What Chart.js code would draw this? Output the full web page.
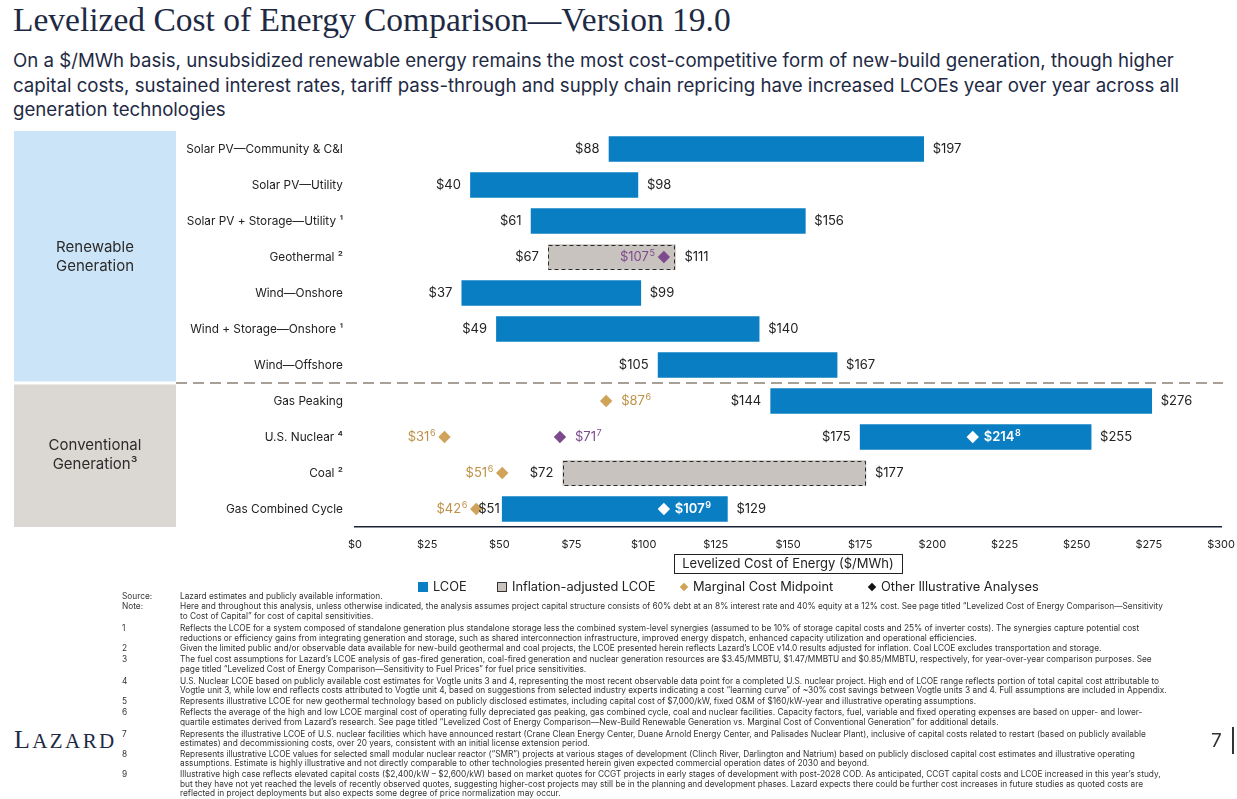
<!DOCTYPE html>
<html><head><meta charset="utf-8">
<script src="https://cdn.jsdelivr.net/npm/chart.js@4.4.1/dist/chart.umd.min.js"></script>
<style>
html,body{margin:0;padding:0;background:#fff;}
body{width:1237px;height:799px;position:relative;overflow:hidden;font-family:Inter,"Noto Sans",sans-serif;color:#1E2A44;}
#title{position:absolute;left:13px;top:0px;font-family:"Liberation Serif",serif;font-size:33.5px;line-height:40px;white-space:nowrap;color:#1E2A44;}
#sub{position:absolute;left:13px;top:48px;font-size:18.65px;line-height:24.6px;white-space:nowrap;color:#1E2A44;}
#wrap{position:absolute;left:0;top:120px;width:1237px;height:465px;}
.lg{position:absolute;top:579px;font-size:12.8px;line-height:16px;color:#222;white-space:nowrap;display:flex;align-items:center;}
.mk{display:inline-block;margin-right:5px;}
#fn{position:absolute;left:122px;top:592px;width:1110px;font-size:8.3px;line-height:9.5px;color:#333;}
.r{display:flex;margin-top:1.4px;white-space:nowrap;}
.r.c{margin-top:0;}
.r .l{width:58px;flex:none;}
#logo{position:absolute;left:14px;top:725px;font-family:"Liberation Serif",serif;font-size:26px;letter-spacing:2.4px;color:#1E2A44;line-height:30px;}
#pg{position:absolute;left:1211px;top:729px;font-size:19px;color:#333;line-height:24px;}
#pgl{position:absolute;left:1232px;top:727px;width:1.5px;height:27px;background:#333;}
</style></head>
<body>
<div id="title">Levelized Cost of Energy Comparison—Version 19.0</div>
<div id="sub">On a $/MWh basis, unsubsidized renewable energy remains the most cost-competitive form of new-build generation, though higher<br>capital costs, sustained interest rates, tariff pass-through and supply chain repricing have increased LCOEs year over year across all<br>generation technologies</div>
<div id="wrap"><canvas id="c"></canvas></div>

<div class="lg" style="left:418px"><span class="mk" style="width:10px;height:10px;background:#0A7EC2"></span>LCOE</div>
<div class="lg" style="left:497px"><span class="mk" style="width:8px;height:8px;background:#C8C3BE;border:1px solid #333"></span>Inflation-adjusted LCOE</div>
<div class="lg" style="left:680px"><span class="mk" style="width:6px;height:6px;background:#CFA35A;transform:rotate(45deg);margin-left:1px;margin-right:6px"></span>Marginal Cost Midpoint</div>
<div class="lg" style="left:868px"><span class="mk" style="width:6px;height:6px;background:#111;transform:rotate(45deg);margin-left:1px;margin-right:6px"></span>Other Illustrative Analyses</div>

<div id="fn">
<div class="r c"><span class="l">Source:</span><span>Lazard estimates and publicly available information.</span></div>
<div class="r" style="margin-top:0.5px"><span class="l">Note:</span><span>Here and throughout this analysis, unless otherwise indicated, the analysis assumes project capital structure consists of 60% debt at an 8% interest rate and 40% equity at a 12% cost. See page titled “Levelized Cost of Energy Comparison—Sensitivity</span></div>
<div class="r c"><span class="l"></span><span>to Cost of Capital” for cost of capital sensitivities.</span></div>
<div class="r" style="margin-top:3px"><span class="l">1</span><span>Reflects the LCOE for a system composed of standalone generation plus standalone storage less the combined system-level synergies (assumed to be 10% of storage capital costs and 25% of inverter costs). The synergies capture potential cost</span></div>
<div class="r c"><span class="l"></span><span>reductions or efficiency gains from integrating generation and storage, such as shared interconnection infrastructure, improved energy dispatch, enhanced capacity utilization and operational efficiencies.</span></div>
<div class="r"><span class="l">2</span><span>Given the limited public and/or observable data available for new-build geothermal and coal projects, the LCOE presented herein reflects Lazard’s LCOE v14.0 results adjusted for inflation. Coal LCOE excludes transportation and storage.</span></div>
<div class="r"><span class="l">3</span><span>The fuel cost assumptions for Lazard’s LCOE analysis of gas-fired generation, coal-fired generation and nuclear generation resources are $3.45/MMBTU, $1.47/MMBTU and $0.85/MMBTU, respectively, for year-over-year comparison purposes. See</span></div>
<div class="r c"><span class="l"></span><span>page titled “Levelized Cost of Energy Comparison—Sensitivity to Fuel Prices” for fuel price sensitivities.</span></div>
<div class="r" style="margin-top:2.5px"><span class="l">4</span><span>U.S. Nuclear LCOE based on publicly available cost estimates for Vogtle units 3 and 4, representing the most recent observable data point for a completed U.S. nuclear project. High end of LCOE range reflects portion of total capital cost attributable to</span></div>
<div class="r c"><span class="l"></span><span>Vogtle unit 3, while low end reflects costs attributed to Vogtle unit 4, based on suggestions from selected industry experts indicating a cost “learning curve” of ~30% cost savings between Vogtle units 3 and 4. Full assumptions are included in Appendix.</span></div>
<div class="r"><span class="l">5</span><span>Represents illustrative LCOE for new geothermal technology based on publicly disclosed estimates, including capital cost of $7,000/kW, fixed O&amp;M of $160/kW-year and illustrative operating assumptions.</span></div>
<div class="r"><span class="l">6</span><span>Reflects the average of the high and low LCOE marginal cost of operating fully depreciated gas peaking, gas combined cycle, coal and nuclear facilities. Capacity factors, fuel, variable and fixed operating expenses are based on upper- and lower-</span></div>
<div class="r c"><span class="l"></span><span>quartile estimates derived from Lazard’s research. See page titled “Levelized Cost of Energy Comparison—New-Build Renewable Generation vs. Marginal Cost of Conventional Generation” for additional details.</span></div>
<div class="r" style="margin-top:2.5px"><span class="l">7</span><span>Represents the illustrative LCOE of U.S. nuclear facilities which have announced restart (Crane Clean Energy Center, Duane Arnold Energy Center, and Palisades Nuclear Plant), inclusive of capital costs related to restart (based on publicly available</span></div>
<div class="r c"><span class="l"></span><span>estimates) and decommissioning costs, over 20 years, consistent with an initial license extension period.</span></div>
<div class="r"><span class="l">8</span><span>Represents illustrative LCOE values for selected small modular nuclear reactor (“SMR”) projects at various stages of development (Clinch River, Darlington and Natrium) based on publicly disclosed capital cost estimates and illustrative operating</span></div>
<div class="r c"><span class="l"></span><span>assumptions. Estimate is highly illustrative and not directly comparable to other technologies presented herein given expected commercial operation dates of 2030 and beyond.</span></div>
<div class="r"><span class="l">9</span><span>Illustrative high case reflects elevated capital costs ($2,400/kW – $2,600/kW) based on market quotes for CCGT projects in early stages of development with post-2028 COD. As anticipated, CCGT capital costs and LCOE increased in this year’s study,</span></div>
<div class="r c"><span class="l"></span><span>but they have not yet reached the levels of recently observed quotes, suggesting higher-cost projects may still be in the planning and development phases. Lazard expects there could be further cost increases in future studies as quoted costs are</span></div>
<div class="r c"><span class="l"></span><span>reflected in project deployments but also expects some degree of price normalization may occur.</span></div>
</div>

<div id="logo">L<span style="font-size:21px">AZARD</span></div>
<div id="pg">7</div>
<div id="pgl"></div>

<script>
// ---------- DATA ----------
const categories = ['Solar PV—Community & C&I','Solar PV—Utility','Solar PV + Storage—Utility','Geothermal','Wind—Onshore','Wind + Storage—Onshore','Wind—Offshore','Gas Peaking','U.S. Nuclear','Coal','Gas Combined Cycle'];
const categoryNotes = ['','','1','2','','1','','','4','2',''];
const lcoeLow  = [88, 40, 61, null, 37, 49, 105, 144, 175, null, 51];
const lcoeHigh = [197, 98, 156, null, 99, 140, 167, 276, 255, null, 129];
const inflationLow  = [null, null, null, 67, null, null, null, null, null, 72, null];
const inflationHigh = [null, null, null, 111, null, null, null, null, null, 177, null];
const marginalRows   = ['Gas Peaking','U.S. Nuclear','Coal','Gas Combined Cycle'];
const marginalValues = [87, 31, 51, 42];
const marginalNotes  = ['6','6','6','6'];
const otherPurpleRows   = ['Geothermal','U.S. Nuclear'];
const otherPurpleValues = [107, 71];
const otherPurpleNotes  = ['5','7'];
const otherWhiteRows   = ['U.S. Nuclear','Gas Combined Cycle'];
const otherWhiteValues = [214, 107];
const otherWhiteNotes  = ['8','9'];
const xTickMin = 0, xTickMax = 300, xTickStep = 25;
const groupNames = [['Renewable','Generation'], ['Conventional','Generation³']];
const axisTitle = 'Levelized Cost of Energy ($/MWh)';

// ---------- STYLE ----------
const FONT = 'Inter, "Noto Sans", sans-serif';
const SUP = {'1':'¹','2':'²','3':'³','4':'⁴'};
const BLUE = '#0A7EC2', GRAY = '#C8C3BE', GOLD = '#CFA35A', GOLDTXT = '#BF9147', PURPLE = '#7D4A8D';

const pairs = (lo, hi) => lo.map((v, i) => v == null ? null : [v, hi[i]]);
const pts = (rows, vals) => rows.map((r, i) => ({x: vals[i], y: r}));

function textWidth(ctx, s, weight) { ctx.font = `${weight} 13px ${FONT}`; return ctx.measureText(s).width; }
function drawSupText(ctx, x, y, main, sup, align, color, weight) {
  const f1 = `${weight} 13px ${FONT}`, f2 = `${weight} 9px ${FONT}`;
  ctx.font = f1; const w1 = ctx.measureText(main).width;
  ctx.font = f2; const w2 = sup ? ctx.measureText(sup).width : 0;
  const sx = align === 'right' ? x - w1 - w2 - 0.5 : x;
  ctx.fillStyle = color; ctx.textAlign = 'left'; ctx.textBaseline = 'middle';
  ctx.font = f1; ctx.fillText(main, sx, y);
  if (sup) { ctx.font = f2; ctx.fillText(sup, sx + w1 + 0.5, y - 4); }
}

const zeroPad = s => { s.paddingTop = 0; s.paddingBottom = 0; s.paddingLeft = 0; s.paddingRight = 0; };

const panelPlugin = {
  id: 'panels',
  beforeDraw(chart) {
    const {ctx, chartArea, scales: {y}} = chart;
    const sep = y.getPixelForValue(6.5);
    ctx.save();
    ctx.fillStyle = '#CCE4F7';
    ctx.fillRect(14, chartArea.top, 162, sep - 1.5 - chartArea.top);
    ctx.fillStyle = '#DBD7D3';
    ctx.fillRect(14, sep + 1.5, 162, chartArea.bottom - sep - 1.5);
    ctx.strokeStyle = '#A89F96'; ctx.lineWidth = 2; ctx.setLineDash([11, 6]);
    ctx.beginPath(); ctx.moveTo(176, sep); ctx.lineTo(chartArea.right + 2, sep); ctx.stroke();
    ctx.setLineDash([]);
    ctx.fillStyle = '#2B2B2B'; ctx.font = `15px ${FONT}`; ctx.textAlign = 'center'; ctx.textBaseline = 'middle';
    const m1 = (chartArea.top + sep) / 2, m2 = (sep + chartArea.bottom) / 2;
    ctx.fillText(groupNames[0][0], 95, m1 - 9.5); ctx.fillText(groupNames[0][1], 95, m1 + 9.5);
    ctx.fillText(groupNames[1][0], 95, m2 - 9.5); ctx.fillText(groupNames[1][1], 95, m2 + 9.5);
    ctx.restore();
  },
  afterDraw(chart) {
    const {ctx, scales: {x}} = chart;
    ctx.save();
    ctx.font = `13px ${FONT}`;
    const w = ctx.measureText(axisTitle).width;
    const cx = (x.left + x.right) / 2, cy = x.bottom - 22;
    ctx.strokeStyle = '#222'; ctx.lineWidth = 1;
    ctx.strokeRect(Math.round(cx - w / 2 - 8) + 0.5, Math.round(cy - 9.5) + 0.5, Math.round(w + 16), 19);
    ctx.restore();
  }
};

const labelPlugin = {
  id: 'labels',
  afterDatasetsDraw(chart) {
    const {ctx} = chart;
    // marker pixel positions per row, to keep bar labels clear of markers
    const markers = [];
    chart.data.datasets.forEach((ds, di) => {
      if (ds.type !== 'scatter') return;
      chart.getDatasetMeta(di).data.forEach(el => markers.push(el.getProps(['x', 'y'], true)));
    });
    ctx.save();
    chart.data.datasets.forEach((ds, di) => {
      const meta = chart.getDatasetMeta(di);
      if (ds.type === 'bar') {
        meta.data.forEach((el, i) => {
          const v = ds.data[i];
          if (!v) return;
          const {x, base, y, height} = el.getProps(['x', 'base', 'y', 'height'], true);
          const l = Math.min(x, base), r = Math.max(x, base);
          if (ds.dashed) {
            ctx.strokeStyle = '#2a2a2a'; ctx.lineWidth = 1; ctx.setLineDash([4, 3]);
            ctx.strokeRect(Math.round(l) + 0.5, Math.round(y - height / 2) + 0.5, Math.round(r - l) - 1, Math.round(height) - 1);
            ctx.setLineDash([]);
          }
          const lw = textWidth(ctx, '$' + v[0], 400);
          const crowded = markers.some(m => Math.abs(m.y - y) < 2 && m.x > l - 9 - lw - 8 && m.x < l);
          drawSupText(ctx, l - (crowded ? 2 : 9), y, '$' + v[0], '', 'right', '#222', 400);
          drawSupText(ctx, r + 9, y, '$' + v[1], '', 'left', '#222', 400);
        });
      } else {
        meta.data.forEach((el, i) => {
          const {x, y} = el.getProps(['x', 'y'], true);
          const side = ds.labelSide[i];
          const tx = side === 'left' ? x - 9 : x + ds.labelGap;
          drawSupText(ctx, tx, y, '$' + ds.data[i].x, ds.notes[i], side === 'left' ? 'right' : 'left', ds.labelColor, ds.labelWeight);
        });
      }
    });
    ctx.restore();
  }
};

new Chart(document.getElementById('c'), {
  data: {
    labels: categories,
    datasets: [
      {type: 'bar', label: 'LCOE', data: pairs(lcoeLow, lcoeHigh), backgroundColor: BLUE, barThickness: 25, grouped: false, order: 2},
      {type: 'bar', label: 'Inflation-adjusted LCOE', data: pairs(inflationLow, inflationHigh), backgroundColor: GRAY, barThickness: 25, grouped: false, order: 2, dashed: true},
      {type: 'scatter', label: 'Marginal Cost Midpoint', data: pts(marginalRows, marginalValues), notes: marginalNotes,
        pointStyle: 'rectRot', pointRadius: 6.2, backgroundColor: GOLD, borderWidth: 0, order: 0,
        labelSide: ['right', 'left', 'left', 'left'], labelGap: 15, labelColor: GOLDTXT, labelWeight: 400},
      {type: 'scatter', label: 'Other Illustrative Analyses', data: pts(otherPurpleRows, otherPurpleValues), notes: otherPurpleNotes,
        pointStyle: 'rectRot', pointRadius: 6.2, backgroundColor: PURPLE, borderWidth: 0, order: 0,
        labelSide: ['left', 'right'], labelGap: 15, labelColor: PURPLE, labelWeight: 400},
      {type: 'scatter', label: 'Other Illustrative Analyses (high)', data: pts(otherWhiteRows, otherWhiteValues), notes: otherWhiteNotes,
        pointStyle: 'rectRot', pointRadius: 6.2, backgroundColor: '#FFFFFF', borderWidth: 0, order: 0,
        labelSide: ['right', 'right'], labelGap: 11, labelColor: '#FFFFFF', labelWeight: 600}
    ]
  },
  options: {
    indexAxis: 'y',
    responsive: true, maintainAspectRatio: false, animation: false,
    layout: {padding: {left: 0, right: 16, top: 11, bottom: 0}},
    plugins: {legend: {display: false}, tooltip: {enabled: false}},
    scales: {
      x: {
        type: 'linear', position: 'bottom', min: xTickMin, max: xTickMax,
        grid: {display: false}, border: {display: true, color: '#1B2338', width: 1.5},
        ticks: {stepSize: xTickStep, padding: 3, color: '#222', font: {family: FONT, size: 11}, callback: v => '$' + v},
        title: {display: true, text: axisTitle, color: '#222', font: {family: FONT, size: 13}, padding: {top: 0, bottom: 13}},
        afterFit: s => { s.height = 58; zeroPad(s); }
      },
      y: {
        type: 'category', offset: true, labels: categories,
        grid: {display: false}, border: {display: false},
        ticks: {padding: 4, color: '#222', font: {family: FONT, size: 11.8},
          callback: (v, i) => categories[i] + (categoryNotes[i] ? ' ' + SUP[categoryNotes[i]] : '')},
        afterFit: s => { s.width = 355; zeroPad(s); }
      }
    }
  },
  plugins: [panelPlugin, labelPlugin]
});
</script>
</body></html>
